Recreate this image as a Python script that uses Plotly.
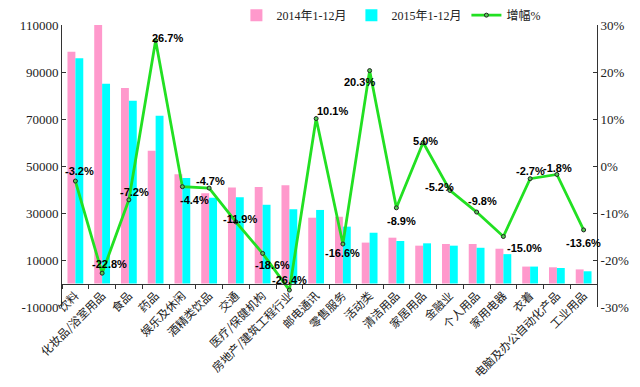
import plotly.graph_objects as go

categories = ["饮料", "化妆品/浴室用品", "食品", "药品", "娱乐及休闲", "酒精类饮品", "交通",
              "医疗/保健机构", "房地产/建筑工程行业", "邮电通讯", "零售服务", "活动类", "清洁用品",
              "家居用品", "金融业", "个人用品", "家用电器", "衣着", "电脑及办公自动化产品", "工业用品"]
values_2014 = [98600, 110000, 83200, 56500, 46500, 38400, 40800, 41100, 41800, 28000,
               28400, 17400, 19500, 16100, 16800, 16800, 14800, 7200, 6900, 6000]
values_2015 = [95800, 85000, 77800, 71400, 44900, 36500, 36700, 33500, 31600, 31300,
               24200, 21600, 18100, 17100, 16100, 15200, 12500, 7200, 6600, 5200]
growth_pct = [-3.2, -22.8, -7.2, 26.7, -4.4, -4.7, -11.9, -18.6, -26.4, 10.1,
              -16.6, 20.3, -8.9, 5.0, -5.2, -9.8, -15.0, -2.7, -1.8, -13.6]
left_ticks = [-10000, 10000, 30000, 50000, 70000, 90000, 110000]
right_ticks = [-30, -20, -10, 0, 10, 20, 30]

# label offsets in pixels (dx right, dy down) relative to each point
label_dx = [4, 7, 6, 12, 12, 1, 4, 10, 0, 16, 0, -10, 5, 2, -10, 6, 21, 0, 1, 0]
label_dy = [-10, -9, -8, -3, 13, -7, -3, 12, -10, -8, 9, 11, 13, -2, -3, -11, 11, -8, -6, 13]

serif = "Liberation Serif, Noto Sans CJK SC, serif"
cjk = "Noto Sans CJK SC, sans-serif"

fig = go.Figure()
fig.add_trace(go.Bar(x=categories, y=values_2014, name="2014年1-12月",
                     marker=dict(color="#FF99CC", line=dict(width=0))))
fig.add_trace(go.Bar(x=categories, y=values_2015, name="2015年1-12月",
                     marker=dict(color="#00FFFF", line=dict(width=0))))
fig.add_trace(go.Scatter(x=categories, y=growth_pct, name="增幅%", yaxis="y2",
                         mode="lines+markers",
                         line=dict(color="#22E022", width=2.8),
                         marker=dict(size=4, color="#55CC55", line=dict(color="#222222", width=1))))

annotations = []
for c, v, dx, dy in zip(categories, growth_pct, label_dx, label_dy):
    annotations.append(dict(x=c, y=v, xref="x", yref="y2", text=f"{v:.1f}%",
                            showarrow=False, xshift=dx, yshift=-dy,
                            font=dict(family="Liberation Sans, Arial, sans-serif", size=11,
                                      color="black", weight="bold")))

zero_pos = 10000 / 120000

fig.update_layout(
    width=624, height=371,
    margin=dict(l=54, r=35, t=17, b=72, autoexpand=False),
    paper_bgcolor="white", plot_bgcolor="white",
    barmode="group", bargap=0.41, bargroupgap=0,
    showlegend=True,
    legend=dict(orientation="h", x=0.326, y=1.035, xanchor="left", yanchor="middle",
                font=dict(family=serif, size=12, color="#222"),
                bgcolor="rgba(0,0,0,0)", itemwidth=30, tracegroupgap=0),
    xaxis=dict(anchor="free", position=zero_pos, showline=True, linecolor="#333", linewidth=1,
               range=[-0.5, len(categories) - 0.5], autorange=False,
               ticks="outside", ticklen=4, tickcolor="#333", tickson="boundaries",
               tickangle=-45, tickfont=dict(family=cjk, size=11.5, color="#222"),
               showgrid=False, zeroline=False, automargin=False),
    yaxis=dict(range=[-10000, 110000], tickvals=left_ticks,
               ticktext=[str(t) for t in left_ticks],
               showline=True, linecolor="#333", linewidth=1, ticks="inside", ticklen=4,
               tickcolor="#333", showgrid=False, zeroline=False, automargin=False,
               tickfont=dict(family=serif, size=13, color="#222")),
    yaxis2=dict(range=[-30, 30], tickvals=right_ticks,
                ticktext=[f"{t}%" for t in right_ticks],
                overlaying="y", side="right", showline=True, linecolor="#333", linewidth=1,
                ticks="inside", ticklen=4, tickcolor="#333", showgrid=False, zeroline=False,
                automargin=False,
                tickfont=dict(family=serif, size=13, color="#222")),
    annotations=annotations,
)

fig.write_html("out.html")
